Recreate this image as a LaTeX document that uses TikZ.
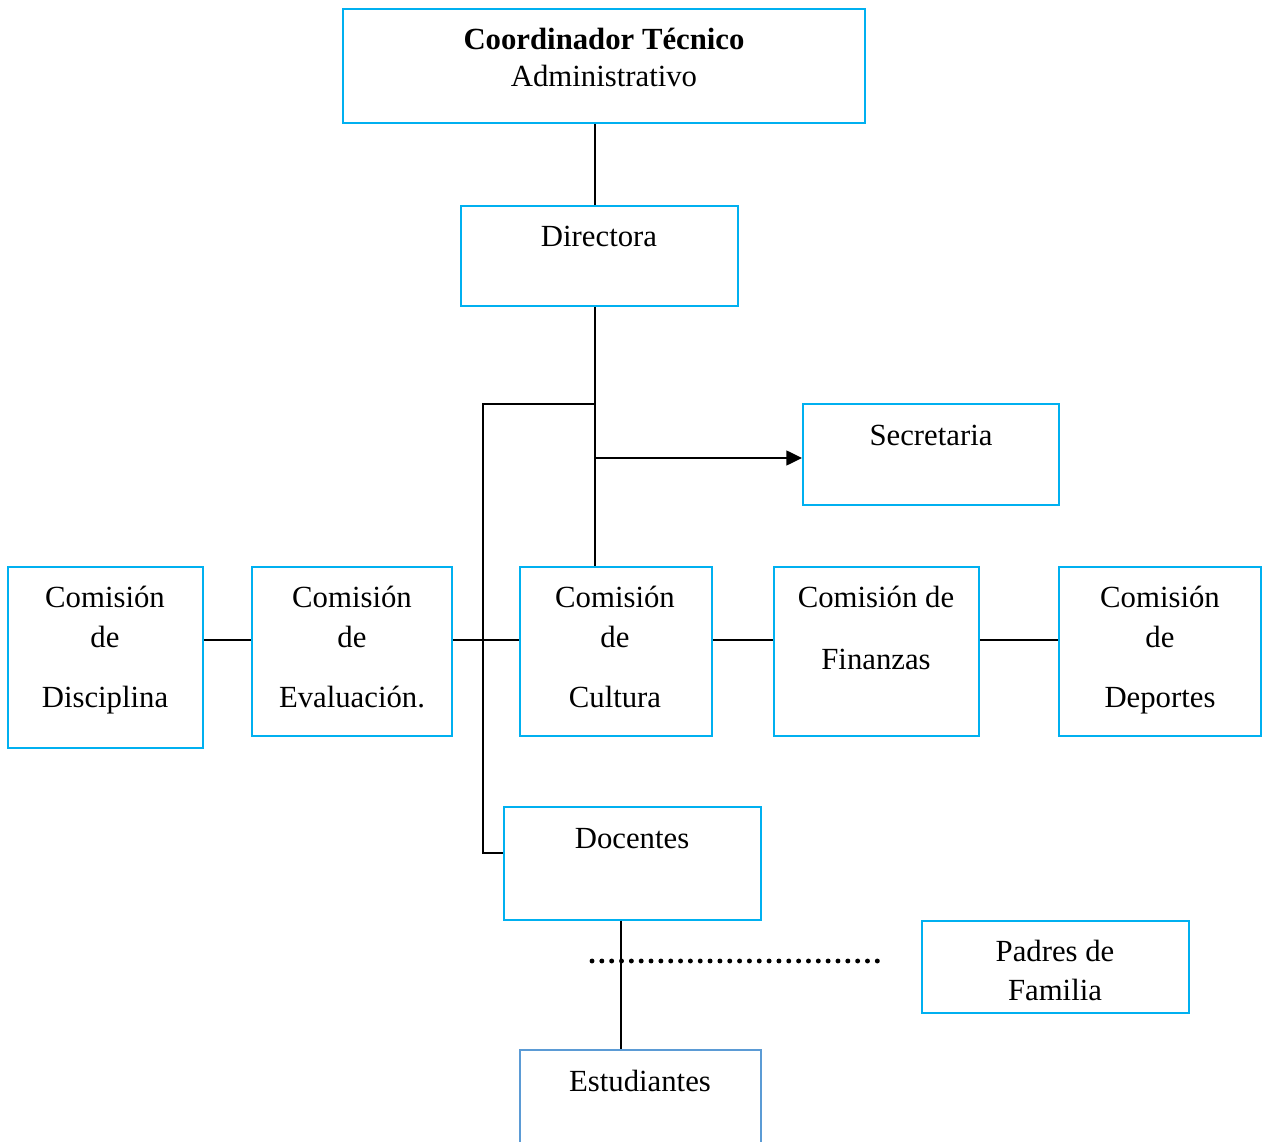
\documentclass[tikz,border=0pt]{standalone}
\usepackage{fontspec}
\setmainfont{Liberation Serif}
\usetikzlibrary{arrows.meta,positioning,calc}
\definecolor{boxblue}{HTML}{00B0F0}
\definecolor{stublue}{HTML}{5B9BD5}
\tikzset{
	box/.style={draw=boxblue, line width=1.1pt, inner sep=0pt},
	txt/.style={inner sep=0pt, anchor=base, align=center, font=\fontsize{17.5}{22.7}\selectfont},
	link/.style={line width=1.1pt},
	dots/.style={line width=2.8pt, line cap=round, dash pattern=on 0pt off 5.6pt},
}

\begin{document}
\begin{tikzpicture}[x=0.02cm, y=-0.02cm]
	\useasboundingbox (0,0) rectangle (1262,1142);

	% boxes
	\node[box, minimum width=10.44cm, minimum height=2.28cm] (coord) at (604,66) {};
	\node[box, minimum width=5.54cm, minimum height=2cm] (dir) at (599.5,256) {};
	\node[box, minimum width=5.12cm, minimum height=2.02cm] (sec) at (931,454.5) {};
	\node[box, minimum width=3.9cm, minimum height=3.62cm] (dis) at (105.5,657.5) {};
	\node[box, minimum width=4cm, minimum height=3.38cm] (eva) at (352,651.5) {};
	\node[box, minimum width=3.84cm, minimum height=3.38cm] (cul) at (616,651.5) {};
	\node[box, minimum width=4.1cm, minimum height=3.38cm] (fin) at (876.5,651.5) {};
	\node[box, minimum width=4.04cm, minimum height=3.38cm] (dep) at (1160,651.5) {};
	\node[box, minimum width=5.14cm, minimum height=2.26cm] (doc) at (632.5,863.5) {};
	\node[box, minimum width=5.34cm, minimum height=1.84cm] (pad) at (1055.5,967) {};
	\node[box, draw=stublue, minimum width=4.82cm, minimum height=2.2cm] (est) at (640.5,1105) {};

	% texts (base = last line)
	\node[txt] (coordtxt) at (604,87) {\textbf{Coordinador Técnico}\\[-1.2pt]Administrativo};
	\node[txt] (dirtxt) at (599,247) {Directora};
	\node[txt] (sectxt) at (931,445) {Secretaria};
	\node[txt] (distxt) at (105,707) {Comisión\\de\\[11.3pt]Disciplina};
	\node[txt] (evatxt) at (352,707) {Comisión\\de\\[11.3pt]Evaluación.};
	\node[txt] (cultxt) at (615,707) {Comisión\\de\\[11.3pt]Cultura};
	\node[txt] (fintxt) at (876,669) {Comisión de\\[12.4pt]Finanzas};
	\node[txt] (deptxt) at (1160,707) {Comisión\\de\\[11.3pt]Deportes};
	\node[txt] (doctxt) at (632,848) {Docentes};
	\node[txt] (padtxt) at (1055,1000) {Padres de\\[-0.6pt]Familia};
	\node[txt] (esttxt) at (640,1091) {Estudiantes};

	% helper points
	\coordinate (spine) at (595,0);
	\coordinate (bus) at (483,404);
	\coordinate (docin) at (483,853);
	\coordinate (secin) at (0,458);
	\coordinate (row) at (0,640);
	\coordinate (stem) at (621,0);
	\coordinate (dotl) at (592,961);
	\coordinate (dotr) at (878,961);

	% connectors
	\draw[link] (spine |- coord.south) -- (spine |- dir.north);
	\draw[link] (spine |- dir.south) -- (spine |- cul.north);
	\draw[link] (spine |- bus) -- (bus) -- (docin) -- (docin -| doc.west);
	\draw[link, -{Triangle[length=9pt, width=8.5pt]}] (spine |- secin) -- (secin -| sec.west);
	\draw[link] (dis.east |- row) -- (eva.west |- row);
	\draw[link] (eva.east |- row) -- (cul.west |- row);
	\draw[link] (cul.east |- row) -- (fin.west |- row);
	\draw[link] (fin.east |- row) -- (dep.west |- row);
	\draw[link] (stem |- doc.south) -- (stem |- est.north);
	\draw[dots] (dotl) -- (dotr);
\end{tikzpicture}
\end{document}
